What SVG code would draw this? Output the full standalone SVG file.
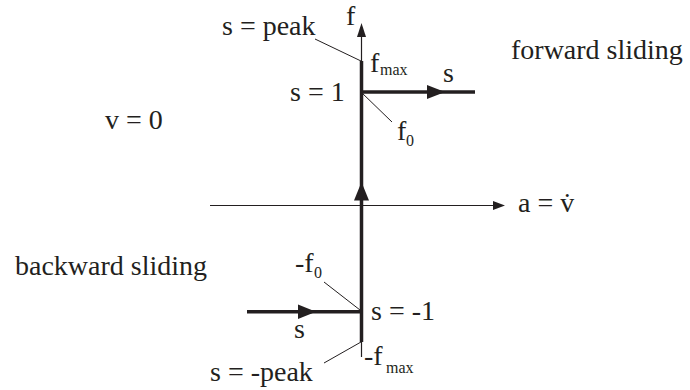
<svg xmlns="http://www.w3.org/2000/svg" width="690" height="390" viewBox="0 0 690 390">
<style>
text{font-family:"Liberation Serif","Times New Roman",serif;fill:#231f20}
.t{font-size:28px}
.sub{font-size:16px}
.thin{stroke:#231f20;stroke-width:1.2;fill:none}
.thick{stroke:#231f20;stroke-width:3.5;fill:none}
.lead{stroke:#231f20;stroke-width:1;fill:none}
.ah{fill:#231f20;stroke:none}
</style>
<rect width="690" height="390" fill="#fff"/>
<g id="connectors">
<line class="thin" x1="210" y1="205.5" x2="495" y2="205.5"/>
<polygon class="ah" points="505,205.5 493,201 493,210"/>
<line class="thin" x1="361.5" y1="35" x2="361.5" y2="62"/>
<polygon class="ah" points="361.5,23 357,37 366,37"/>
<line class="thick" x1="361.5" y1="61" x2="361.5" y2="342"/>
<line class="thin" x1="361.5" y1="341" x2="361.5" y2="357"/>
<polygon class="ah" points="361.5,182 354,200.5 369,200.5"/>
<line class="thick" x1="361.5" y1="92" x2="475" y2="92"/>
<polygon class="ah" points="445,92 427,85 427,99"/>
<line class="thick" x1="247" y1="311.7" x2="361.5" y2="311.7"/>
<polygon class="ah" points="316,311.7 298,304.5 298,319"/>
<line class="lead" x1="315" y1="39" x2="361" y2="61"/>
<line class="lead" x1="361" y1="92" x2="392" y2="122"/>
<line class="lead" x1="324" y1="282" x2="360" y2="310"/>
<line class="lead" x1="361" y1="342" x2="324" y2="363"/>
</g>
<g id="axis-f"><text class="t" x="346" y="25">f</text></g>
<g id="axis-a"><text class="t" x="518" y="212">a = v&#775;</text></g>
<g id="peak"><text class="t" x="222" y="35">s = peak</text></g>
<g id="fmax"><text class="t" x="370" y="72">f</text><text class="sub" x="380" y="75">max</text></g>
<g id="s-top"><text class="t" x="443" y="82">s</text></g>
<g id="s1"><text class="t" x="290" y="101">s = 1</text></g>
<g id="f0"><text class="t" x="397" y="140">f</text><text class="sub" x="406" y="146">0</text></g>
<g id="forward"><text class="t" x="511" y="59">forward sliding</text></g>
<g id="v0"><text class="t" x="105" y="129">v = 0</text></g>
<g id="backward"><text class="t" x="15" y="275">backward sliding</text></g>
<g id="mf0"><text class="t" x="295" y="272">-f</text><text class="sub" x="314" y="278">0</text></g>
<g id="sm1"><text class="t" x="371" y="320">s = -1</text></g>
<g id="s-bot"><text class="t" x="294" y="338">s</text></g>
<g id="mfmax"><text class="t" x="364" y="365">-f</text><text class="sub" x="386" y="373">max</text></g>
<g id="mpeak"><text class="t" x="210" y="381">s = -peak</text></g>
</svg>
